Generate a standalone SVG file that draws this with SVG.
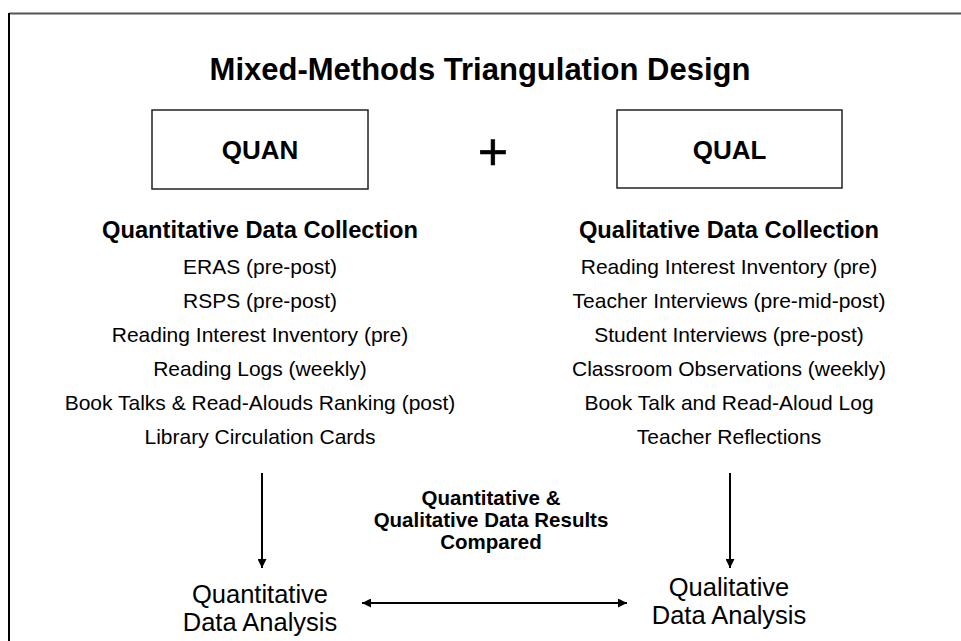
<svg xmlns="http://www.w3.org/2000/svg" width="961" height="641" viewBox="0 0 961 641">
<style>
text{font-family:"Liberation Sans",Arial,sans-serif;fill:#000;text-anchor:middle}
.b{font-weight:bold}
.title{font-size:31px;font-weight:bold}
.box{fill:#fff;stroke:#222;stroke-width:1.5}
.hd{font-size:23.7px;font-weight:bold}
.it{font-size:21px}
.an{font-size:25.5px}
.mid{font-size:20.5px;font-weight:bold}
.con{stroke:#000;stroke-width:2;fill:none}
</style>
<defs>
<marker id="ah" viewBox="0 0 10 10" refX="10" refY="5" markerWidth="4.5" markerHeight="4.5" orient="auto-start-reverse" markerUnits="strokeWidth">
<path d="M0,0 L10,5 L0,10 z" fill="#000"/>
</marker>
</defs>
<rect width="961" height="641" fill="#fff"/>
<g id="frame">
<line x1="9" y1="13.5" x2="961" y2="13.5" stroke="#555" stroke-width="2"/>
<line x1="9" y1="13" x2="9" y2="641" stroke="#000" stroke-width="2"/>
</g>
<g id="title"><text class="title" x="480" y="80">Mixed-Methods Triangulation Design</text></g>
<g id="quan">
<rect class="box" x="152" y="110" width="216" height="79"/>
<text class="b" x="260" y="159" font-size="26">QUAN</text>
</g>
<g id="plus"><text x="493" y="170" font-size="52" stroke="#000" stroke-width="0.6">+</text></g>
<g id="qual">
<rect class="box" x="617" y="110" width="225" height="78"/>
<text class="b" x="729.5" y="159" font-size="26">QUAL</text>
</g>
<g id="quan-collection">
<text class="hd" x="260" y="238">Quantitative Data Collection</text>
<text class="it" x="260" y="274">ERAS (pre-post)</text>
<text class="it" x="260" y="308">RSPS (pre-post)</text>
<text class="it" x="260" y="342">Reading Interest Inventory (pre)</text>
<text class="it" x="260" y="376">Reading Logs (weekly)</text>
<text class="it" x="260" y="410">Book Talks &amp; Read-Alouds Ranking (post)</text>
<text class="it" x="260" y="444">Library Circulation Cards</text>
</g>
<g id="qual-collection">
<text class="hd" x="729" y="238">Qualitative Data Collection</text>
<text class="it" x="729" y="274">Reading Interest Inventory (pre)</text>
<text class="it" x="729" y="308">Teacher Interviews (pre-mid-post)</text>
<text class="it" x="729" y="342">Student Interviews (pre-post)</text>
<text class="it" x="729" y="376">Classroom Observations (weekly)</text>
<text class="it" x="729" y="410">Book Talk and Read-Aloud Log</text>
<text class="it" x="729" y="444">Teacher Reflections</text>
</g>
<g id="quan-analysis">
<text class="an" x="260" y="603">Quantitative</text>
<text class="an" x="260" y="631">Data Analysis</text>
</g>
<g id="qual-analysis">
<text class="an" x="729" y="596">Qualitative</text>
<text class="an" x="729" y="624">Data Analysis</text>
</g>
<g id="compare-label">
<text class="mid" x="491" y="505">Quantitative &amp;</text>
<text class="mid" x="491" y="527">Qualitative Data Results</text>
<text class="mid" x="491" y="549">Compared</text>
</g>
<g id="connectors">
<line class="con" x1="262" y1="473" x2="262" y2="568" marker-end="url(#ah)"/>
<line class="con" x1="730" y1="473" x2="730" y2="568" marker-end="url(#ah)"/>
<line class="con" x1="362" y1="603" x2="627" y2="603" marker-start="url(#ah)" marker-end="url(#ah)"/>
</g>
</svg>
